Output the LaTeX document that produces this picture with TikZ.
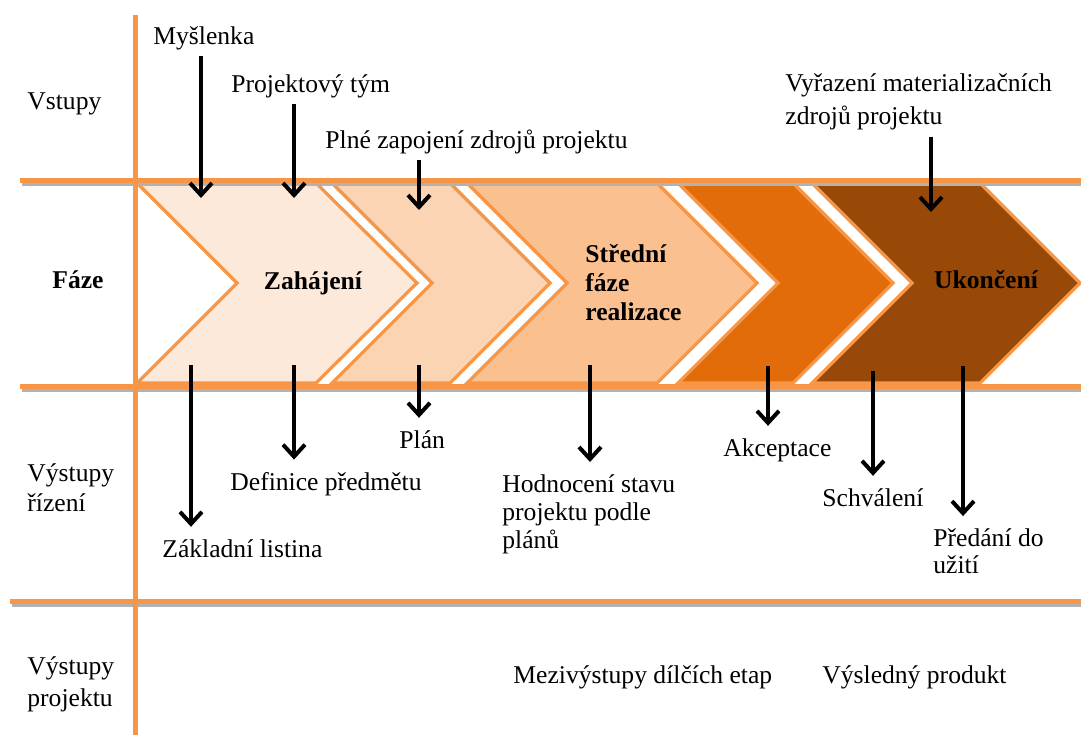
\documentclass[tikz,border=0pt]{standalone}
\usepackage{fontspec}
\setmainfont{Liberation Serif}
\usetikzlibrary{arrows.meta,positioning}
\definecolor{pasmo}{HTML}{F79646}
\definecolor{faze1}{HTML}{FDE9D9}
\definecolor{faze2}{HTML}{FBD4B4}
\definecolor{faze3}{HTML}{FAC090}
\definecolor{faze4}{HTML}{E36C0A}
\definecolor{faze5}{HTML}{984807}

\begin{document}
\begin{tikzpicture}[x=0.5pt,y=-0.5pt,>={Straight Barb[length=6pt,width=11pt]},
	every node/.style={font=\fontsize{12.8}{15}\selectfont,inner sep=0pt},
	txt/.style={anchor=base west},
	multi/.style={anchor=west,align=left},
	phasetxt/.style={font=\fontsize{12.8}{15}\selectfont\bfseries},
	bandline/.style={draw=pasmo,line width=2.5pt},
	stin/.style={draw=black!30,line width=2.5pt},
	chev/.style={draw=pasmo,line width=1.6pt},
	inarr/.style={->,line width=2pt,shorten <=3pt},
	outarr/.style={->,line width=2pt,shorten >=6pt}]
	\useasboundingbox (0,0) rectangle (1081,735);

	% faze
	\draw[chev,fill=faze1] (137,183) -- (316,183) -- (417,283) -- (316,383) -- (137,383) -- (237,283) -- cycle;
	\draw[chev,fill=faze2] (332,183) -- (450,183) -- (550,283) -- (450,383) -- (332,383) -- (432,283) -- cycle;
	\draw[chev,fill=faze3] (467,183) -- (657,183) -- (757,283) -- (657,383) -- (467,383) -- (567,283) -- cycle;
	\draw[chev,fill=faze4] (678,183) -- (793,183) -- (893,283) -- (793,383) -- (678,383) -- (778,283) -- cycle;
	\draw[chev,fill=faze5] (812,183) -- (980,183) -- (1080,283) -- (980,383) -- (812,383) -- (912,283) -- cycle;

	% stiny a cary
	\draw[stin] (22,183) -- (1081,183);
	\draw[stin] (22,389) -- (1081,389);
	\draw[stin] (12,604) -- (1081,604);
	\draw[bandline] (135,15) -- (135,735);
	\draw[bandline] (20,180) -- (1081,180);
	\draw[bandline] (20,386) -- (1081,386);
	\draw[bandline] (10,601) -- (1081,601);

	\node[txt] (vstupy) at (27,109) {Vstupy};
	\node[txt,phasetxt] (faze) at (52,288) {Fáze};
	\node[multi] (vrizeni) at (27,488) {Výstupy\\řízení};
	\node[multi] (vprojektu) at (27,684) {Výstupy\\[1pt]projektu};

	\node[phasetxt] (zahajeni) at (313,283) {Zahájení};
	\node[multi,phasetxt] (stredni) at (585,283) {Střední\\[-0.5pt]fáze\\[-0.5pt]realizace};
	\node[phasetxt] (ukonceni) at (986,280) {Ukončení};

	\node[txt] (myslenka) at (153,44) {Myšlenka};
	\node[txt] (tym) at (231,92) {Projektový tým};
	\node[txt] (zdroje) at (325,148) {Plné zapojení zdrojů projektu};
	\node[multi] (vyrazeni) at (785,102) {Vyřazení materializačních\\[1.5pt]zdrojů projektu};

	\node[txt] (zakladni) at (162,557) {Základní listina};
	\node[txt] (definice) at (230,490) {Definice předmětu};
	\node[txt] (plan) at (399,448) {Plán};
	\node[multi] (hodnoceni) at (502,514) {Hodnocení stavu\\[-1pt]projektu podle\\[-1pt]plánů};
	\node[txt] (akceptace) at (723,456) {Akceptace};
	\node[txt] (schvaleni) at (822,506) {Schválení};
	\node[multi] (predani) at (933,551) {Předání do\\[-1.5pt]užití};

	\node[txt] (mezi) at (513,683) {Mezivýstupy dílčích etap};
	\node[txt] (produkt) at (822,683) {Výsledný produkt};

	\coordinate (in1) at (201,198);
	\coordinate (in2) at (294,198);
	\coordinate (in3) at (419,210);
	\coordinate (in4) at (931,212);
	\coordinate (out1) at (191,365);
	\coordinate (out2) at (294,365);
	\coordinate (out3) at (419,365);
	\coordinate (out4) at (590,365);
	\coordinate (out5) at (768,366);
	\coordinate (out6) at (873,371);
	\coordinate (out7) at (963,366);

	\draw[inarr] (myslenka.south -| in1) -- (in1);
	\draw[inarr] (tym.south -| in2) -- (in2);
	\draw[inarr] (zdroje.south -| in3) -- (in3);
	\draw[inarr] (vyrazeni.south -| in4) -- (in4);

	\draw[outarr] (out1) -- (zakladni.north -| out1);
	\draw[outarr] (out2) -- (definice.north -| out2);
	\draw[outarr] (out3) -- (plan.north -| out3);
	\draw[outarr] (out4) -- (hodnoceni.north -| out4);
	\draw[outarr] (out5) -- (akceptace.north -| out5);
	\draw[outarr] (out6) -- (schvaleni.north -| out6);
	\draw[outarr] (out7) -- (predani.north -| out7);
\end{tikzpicture}
\end{document}
